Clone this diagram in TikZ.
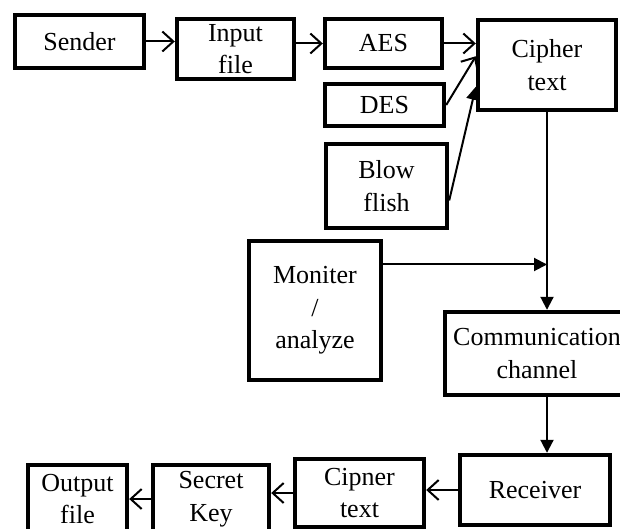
\documentclass[tikz,border=0pt]{standalone}
\usepackage{fontspec}
\setmainfont{Liberation Serif}
\usepackage{tikz}
\usetikzlibrary{arrows.meta}
\tikzset{
  box/.style={draw, line width=2.2pt, rectangle, inner sep=0pt, align=center,
              font=\fontsize{13}{16.25}\selectfont},
  flow/.style={-{Straight Barb[length=5.5pt,width=10pt,line width=1pt]}, line width=1pt},
  feed/.style={-{Triangle[length=6.5pt,width=6.5pt]}, line width=1pt},
}

\begin{document}
\begin{tikzpicture}[x=0.5pt, y=-0.5pt]
\useasboundingbox (0,0) rectangle (620,529);
\clip (0,0) rectangle (620,529);
% sending side
\node[box, minimum width=64.5pt, minimum height=26.5pt] (sender) at (79.5,41.5) {Sender};
\node[box, minimum width=58.5pt, minimum height=30pt] (input) at (235.5,49) {Input\\file};
\node[box, minimum width=58.5pt, minimum height=24.5pt] (aes) at (383.5,43.5) {AES};
\node[box, minimum width=59.5pt, minimum height=21pt] (des) at (384.5,105) {DES};
\node[box, minimum width=60.5pt, minimum height=42pt] (blow) at (386.5,186) {Blow\\flish};
\node[box, minimum width=69pt, minimum height=45pt] (cipher) at (547,65) {Cipher\\text};
\node[box, minimum width=66pt, minimum height=69.5pt] (mon) at (315,310.5) {Moniter\\/\\analyze};
\node[box, minimum width=92pt, minimum height=41.5pt] (comm) at (537,353.5) {Communication\\channel};
% receiving side
\node[box, minimum width=75pt, minimum height=35pt] (receiver) at (535,490) {Receiver};
\node[box, minimum width=64.5pt, minimum height=34pt] (cipner) at (359.5,493) {Cipner\\text};
\node[box, minimum width=58pt, minimum height=34pt] (secret) at (211,499) {Secret\\Key};
\node[box, minimum width=49.5pt, minimum height=34pt] (output) at (77.5,499) {Output\\file};
\coordinate (tap) at (mon.34 -| cipher.south);
% connectors
\draw[flow] (sender.east) -- (sender.east -| input.west);
\draw[flow] (aes.west -| input.east) -- (aes.west);
\draw[flow] (aes.east) -- (aes.east -| cipher.west);
\draw[flow] (des.east) -- (cipher.173);
\draw[feed] (blow.-13) -- (cipher.197);
\draw[feed] (cipher.south) -- (cipher.south |- comm.north);
\draw[feed] (mon.34) -- (tap);
\draw[feed] (comm.south -| cipher.south) -- (receiver.north -| cipher.south);
\draw[flow] (receiver.west) -- (receiver.west -| cipner.east);
\draw[flow] (cipner.west) -- (cipner.west -| secret.east);
\draw[flow] (secret.west) -- (secret.west -| output.east);
\end{tikzpicture}
\end{document}
